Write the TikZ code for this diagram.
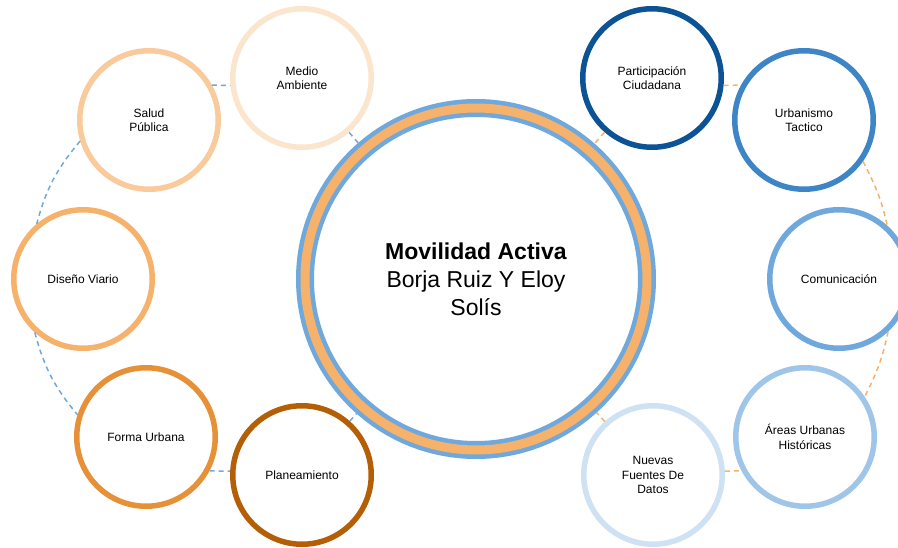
\documentclass[tikz,border=0pt]{standalone}
\usepackage{fontspec}
\setmainfont{Liberation Sans}
\definecolor{peachA}{HTML}{FCE5CD}
\definecolor{peachB}{HTML}{F9CB9C}
\definecolor{peachC}{HTML}{F6B26B}
\definecolor{peachD}{HTML}{E69138}
\definecolor{peachE}{HTML}{B45F06}
\definecolor{navyA}{HTML}{0B5394}
\definecolor{navyB}{HTML}{3D85C6}
\definecolor{navyC}{HTML}{6FA8DC}
\definecolor{navyD}{HTML}{9FC5E8}
\definecolor{navyE}{HTML}{CFE2F3}
\begin{document}
\begin{tikzpicture}[x=1pt, y=1pt,
  topic/.style={circle, draw=#1, line width=5.5pt, fill=white, minimum size=138.5pt,
    inner sep=0pt, align=center, font=\fontsize{12}{14.5}\selectfont},
  hub/.style={circle, draw=navyC, double=peachC, double distance=9pt, line width=4.5pt,
    fill=white, minimum size=342pt, outer sep=9pt, inner sep=0pt, align=center,
    font=\fontsize{23}{28}\selectfont},
  leftlink/.style={draw=navyC, line width=1.5pt, dash pattern=on 5pt off 4pt},
  rightlink/.style={draw=peachC, line width=1.5pt, dash pattern=on 5pt off 4pt}]
% Page frame, same size as the slide
\useasboundingbox (0,0) rectangle (898,-548);
% Central topic
\node[hub] (core) at (476,-279) {\textbf{Movilidad Activa}\\Borja Ruiz Y Eloy\\Solís};
% Left half, orange shades
\node[topic=peachA] (medio) at (302,-78) {Medio\\Ambiente};
\node[topic=peachB] (salud) at (149,-120) {Salud\\Pública};
\node[topic=peachC] (diseno) at (83,-279) {Diseño Viario};
\node[topic=peachD] (forma) at (146,-437) {Forma Urbana};
\node[topic=peachE] (plan) at (302,-475) {Planeamiento};
% Right half, blue shades
\node[topic=navyA] (part) at (652,-78) {Participación\\Ciudadana};
\node[topic=navyB] (urban) at (804,-120) {Urbanismo\\Tactico};
\node[topic=navyC] (comu) at (839,-279) {Comunicación};
\node[topic=navyD] (areas) at (805,-437) {Áreas Urbanas\\Históricas};
\node[topic=navyE] (nuevas) at (653,-475) {Nuevas\\Fuentes De\\Datos};
% Left links
\draw[leftlink] (medio) -- (core);
\draw[leftlink] (salud.29) -- (medio.186);
\draw[leftlink] (salud.197) to[out=230, in=75] (diseno.130);
\draw[leftlink] (diseno.228) to[out=-75, in=130] (forma.162);
\draw[leftlink] (forma.-28) -- (plan.177);
\draw[leftlink] (plan) -- (core);
% Right links
\draw[rightlink] (part) -- (core);
\draw[rightlink] (part.-6) -- (urban.151);
\draw[rightlink] (urban.-35) to[out=-63, in=102] (comu.48);
\draw[rightlink] (comu.-47) to[out=-102, in=63] (areas.34);
\draw[rightlink] (nuevas.3) -- (areas.208);
\draw[rightlink] (nuevas) -- (core);
\end{tikzpicture}
\end{document}
